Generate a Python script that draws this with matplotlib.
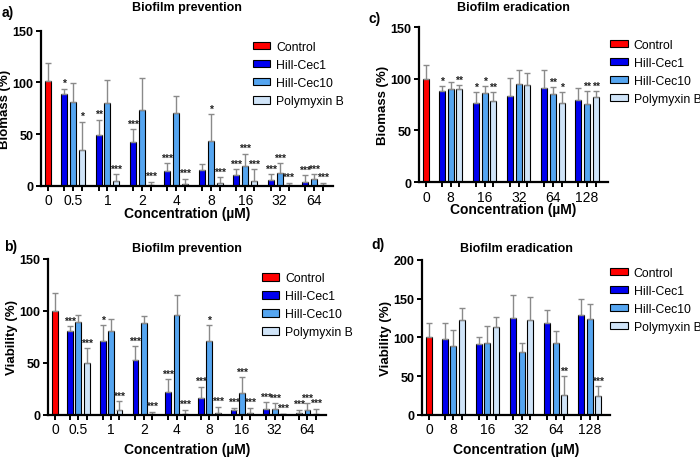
import numpy as np
import matplotlib.pyplot as plt
from matplotlib.patches import Patch

plt.rcParams['font.family'] = ['Liberation Sans', 'DejaVu Sans']

series_names = ['Control', 'Hill-Cec1', 'Hill-Cec10', 'Polymyxin B']
colors = ['#ff0000', '#0000f0', '#55a5f0', '#d0e4f8']

# --- a) Biofilm prevention, biomass ---
conc_prev = ['0.5', '1', '2', '4', '8', '16', '32', '64']
a_ctrl, a_ctrl_sd = 101, 18
a_cec1 = [89, 49, 42, 14, 15, 10, 6, 4]
a_cec1_sd = [5, 15, 13, 8, 6, 6, 5, 6]
a_cec10 = [81, 80, 73, 70, 43, 19, 12, 7]
a_cec10_sd = [18, 22, 31, 17, 26, 12, 10, 4]
a_pmb = [35, 5, 0.5, 2, 3, 5, 0.5, 1]
a_pmb_sd = [27, 6, 3.5, 5, 5, 11, 2.5, 2]
a_stars = [['*', '**', '***', '***', '', '***', '***', '***'],
           ['', '', '', '', '*', '***', '***', '***'],
           ['*', '***', '***', '***', '***', '***', '***', '***']]

# --- b) Biofilm prevention, viability ---
b_ctrl, b_ctrl_sd = 100, 17
b_cec1 = [81, 71, 53, 22, 16, 5, 6, 2]
b_cec1_sd = [4, 15, 13, 12, 11, 2, 6, 3]
b_cec10 = [89, 81, 88, 96, 71, 21, 6, 5]
b_cec10_sd = [7, 11, 7, 19, 15, 15, 5, 6]
b_pmb = [50, 5, 0.5, 0.5, 2, 2, 0.5, 0.5]
b_pmb_sd = [14, 8, 2.5, 4.5, 6, 5, 0.5, 5.5]
b_stars = [['***', '*', '***', '***', '***', '***', '***', '***'],
           ['', '', '', '', '*', '***', '***', '***'],
           ['***', '***', '***', '***', '***', '***', '***', '***']]

# --- c) Biofilm eradication, biomass ---
conc_erad = ['8', '16', '32', '64', '128']
c_ctrl, c_ctrl_sd = 100, 13
c_cec1 = [88, 77, 83, 91, 79]
c_cec1_sd = [5, 10, 18, 17, 12]
c_cec10 = [90, 86, 95, 85, 76]
c_cec10_sd = [7, 7, 13, 7, 12]
c_pmb = [90, 78, 94, 77, 82]
c_pmb_sd = [4, 9, 12, 10, 6]
c_stars = [['*', '*', '', '', ''],
           ['', '*', '', '**', '**'],
           ['**', '**', '', '*', '**']]

# --- d) Biofilm eradication, viability ---
d_ctrl, d_ctrl_sd = 100, 19
d_cec1 = [98, 91, 125, 119, 129]
d_cec1_sd = [20, 10, 30, 16, 20]
d_cec10 = [89, 93, 81, 93, 124]
d_cec10_sd = [20, 22, 12, 15, 19]
d_pmb = [123, 113, 123, 25, 24]
d_pmb_sd = [15, 13, 29, 25, 13]
d_stars = [['', '', '', '', ''],
           ['', '', '', '', ''],
           ['', '', '', '**', '***']]


def panel(ax, title, ylabel, ymax, concs, ctrl, ctrl_sd, groups, sds, stars,
          xright, title_pad, xlabel_pad, leg_anchor):
    n = len(concs)
    centers = 2.65 + 3.7 * np.arange(n)
    w = 0.65
    err_kw = dict(ecolor='#8a8a8a', elinewidth=1.0, capsize=2, capthick=1.0)
    ax.bar([0], [ctrl], w, color=colors[0], edgecolor='black', linewidth=0.8,
           yerr=[[0], [ctrl_sd]], error_kw=err_kw, zorder=2)
    ticks = [0]
    labels = ['0']
    for j in range(3):
        xs = centers + (j - 1) * 0.95
        vals = np.array(groups[j])
        sd = np.array(sds[j])
        ax.bar(xs, vals, w, color=colors[j + 1], edgecolor='black', linewidth=0.8,
               yerr=[np.zeros(n), sd], error_kw=err_kw, zorder=2)
        for x, v, s, st in zip(xs, vals, sd, stars[j]):
            if st:
                ax.text(x, v + s + ymax * 0.003, st, ha='center', va='bottom',
                        fontsize=7.5, fontweight='bold', color='#222222')
    for c in centers:
        ticks += [c - 0.95, c, c + 0.95]
    for lab in concs:
        labels += ['', lab, '']
    ax.set_xticks(ticks)
    ax.set_xticklabels(labels, fontsize=10)
    ax.set_xlim(-0.75, xright)
    ax.set_ylim(0, ymax)
    ax.set_yticks(np.arange(0, ymax + 1, 50))
    for t in ax.get_yticklabels():
        t.set_fontweight('bold')
        t.set_fontsize(9)
    ax.spines['top'].set_visible(False)
    ax.spines['right'].set_visible(False)
    ax.spines['left'].set_linewidth(1.6)
    ax.spines['bottom'].set_linewidth(1.6)
    ax.tick_params(axis='both', width=1.4, length=3.5, direction='out', pad=2)
    ax.set_ylabel(ylabel, fontsize=9.5, fontweight='bold', labelpad=1)
    ax.set_xlabel('Concentration (µM)', fontsize=10, fontweight='bold', labelpad=xlabel_pad)
    ax.set_title(title, fontsize=9, fontweight='bold', pad=title_pad)
    handles = [Patch(facecolor=c, edgecolor='black', linewidth=0.8) for c in colors]
    ax.legend(handles, series_names, loc='upper left', bbox_to_anchor=leg_anchor,
              frameon=False, fontsize=8.8, handlelength=1.4, handleheight=0.55,
              handletextpad=0.5, labelspacing=0.5, borderaxespad=0, borderpad=0)


fig = plt.figure(figsize=(7, 4.6), dpi=100)
ax_a = fig.add_axes([0.059, 0.594, 0.417, 0.337])
ax_b = fig.add_axes([0.069, 0.096, 0.396, 0.339])
ax_c = fig.add_axes([0.599, 0.602, 0.269, 0.337])
ax_d = fig.add_axes([0.603, 0.096, 0.269, 0.337])

panel(ax_a, 'Biofilm prevention', 'Biomass (%)', 150, conc_prev,
      a_ctrl, a_ctrl_sd, [a_cec1, a_cec10, a_pmb], [a_cec1_sd, a_cec10_sd, a_pmb_sd],
      a_stars, 30.6, 15, -1, (0.725, 0.935))
panel(ax_b, 'Biofilm prevention', 'Viability (%)', 150, conc_prev,
      b_ctrl, b_ctrl_sd, [b_cec1, b_cec10, b_pmb], [b_cec1_sd, b_cec10_sd, b_pmb_sd],
      b_stars, 30.6, 6, 4, (0.77, 0.915))
panel(ax_c, 'Biofilm eradication', 'Biomass (%)', 150, conc_erad,
      c_ctrl, c_ctrl_sd, [c_cec1, c_cec10, c_pmb], [c_cec1_sd, c_cec10_sd, c_pmb_sd],
      c_stars, 19.7, 12, -1, (1.015, 0.925))
panel(ax_d, 'Biofilm eradication', 'Viability (%)', 200, conc_erad,
      d_ctrl, d_ctrl_sd, [d_cec1, d_cec10, d_pmb], [d_cec1_sd, d_cec10_sd, d_pmb_sd],
      d_stars, 19.7, 6, 4, (1.0, 0.955))

fig.text(0.003, 0.972, 'a)', fontsize=10, fontweight='bold', va='center')
fig.text(0.006, 0.463, 'b)', fontsize=10, fontweight='bold', va='center')
fig.text(0.526, 0.958, 'c)', fontsize=10, fontweight='bold', va='center')
fig.text(0.530, 0.467, 'd)', fontsize=10, fontweight='bold', va='center')

fig.savefig('out.png', dpi=100)
